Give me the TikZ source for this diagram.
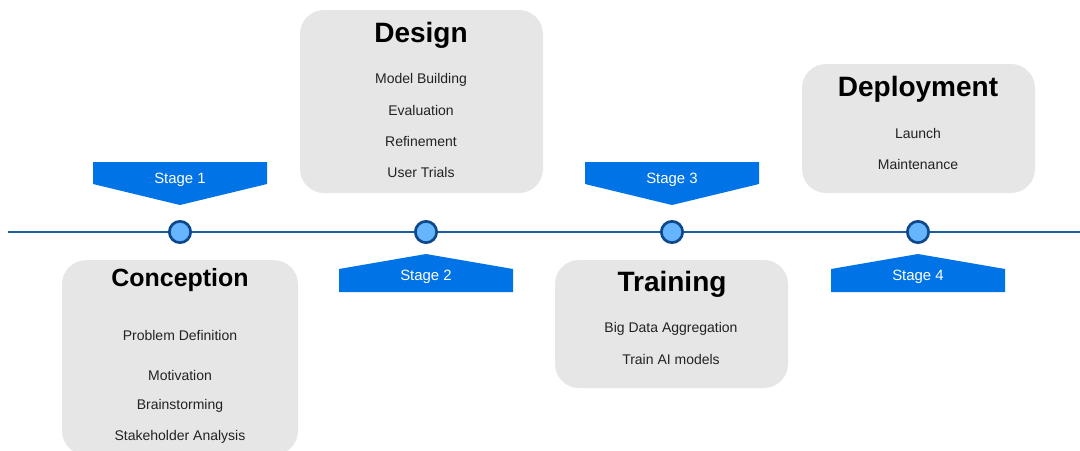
\documentclass[tikz,border=0pt]{standalone}
\usepackage{fontspec}
\setmainfont{Liberation Sans}
\definecolor{LineClr}{RGB}{26,92,165}
\definecolor{DotClr}{RGB}{102,181,255}
\definecolor{DotEdgeClr}{RGB}{13,72,140}
\definecolor{FlagClr}{RGB}{0,115,230}
\definecolor{BoxClr}{RGB}{230,230,230}
\definecolor{ItemClr}{RGB}{34,34,34}

\begin{document}
\begin{tikzpicture}[x=0.75pt,y=-0.75pt,
  dot/.style={circle,draw=DotEdgeClr,fill=DotClr,line width=2pt,minimum size=16pt,inner sep=0pt},
  card/.style={fill=BoxClr,rounded corners=18pt,inner sep=0pt},
  title/.style={font=\bfseries\fontsize{21}{24}\selectfont},
  item/.style={text=ItemClr,font=\fontsize{10.5}{12}\selectfont},
  flagtxt/.style={text=white,font=\fontsize{11.2}{13}\selectfont}]
\useasboundingbox (0,0) rectangle (1080,450);
\clip (0,0) rectangle (1080,450);

% grey cards
\node[card,minimum width=177pt,minimum height=146pt] (concept) at (180,357.5) {};
\node[card,minimum width=182.25pt,minimum height=137.25pt] (design) at (421.5,101.5) {};
\node[card,minimum width=174.75pt,minimum height=96pt] (train) at (671.5,324) {};
\node[card,minimum width=174.75pt,minimum height=96.75pt] (deploy) at (918.5,128.5) {};

% time line
\coordinate (start) at (8,232);
\coordinate (end) at (1080,232);
\draw[LineClr,line width=1.6pt] (start) -- (end);

\node[dot] (s1) at (180,232) {};
\node[dot] (s2) at (426,232) {};
\node[dot] (s3) at (672,232) {};
\node[dot] (s4) at (918,232) {};

% flags pointing down (stage 1, 3)
\foreach \s/\n in {s1/1,s3/3}{
  \fill[FlagClr,shift={(\s)}] (-87,-70) -- (87,-70) -- (87,-48) -- (0,-27) -- (-87,-48) -- cycle;
  \node[flagtxt] (flag\n) at ([yshift=39pt]\s) {Stage \n};
}
% flags pointing up (stage 2, 4)
\foreach \s/\n in {s2/2,s4/4}{
  \fill[FlagClr,shift={(\s)}] (-87,60) -- (87,60) -- (87,37) -- (0,22) -- (-87,37) -- cycle;
  \node[flagtxt] (flag\n) at ([yshift=-33.5pt]\s) {Stage \n};
}

% titles
\node[title,font=\bfseries\fontsize{18.7}{22}\selectfont] (concept-t) at (180,280) {Conception};
\node[title] (design-t) at (421,35) {Design};
\node[title] (train-t) at (672,284) {Training};
\node[title] (deploy-t) at (918,89) {Deployment};

% items
\foreach \y/\t [count=\i] in {335/Problem Definition,375/Motivation,406/Brainstorming,437/Stakeholder Analysis}
  \node[item] (concept-\i) at (180,\y) {\t};
\foreach \y/\t [count=\i] in {79.5/Model Building,110/Evaluation,141/Refinement,172/User Trials}
  \node[item] (design-\i) at (421,\y) {\t};
\foreach \y/\t [count=\i] in {329/Big Data Aggregation,359/Train AI models}
  \node[item] (train-\i) at (671,\y) {\t};
\foreach \y/\t [count=\i] in {133/Launch,164/Maintenance}
  \node[item] (deploy-\i) at (918,\y) {\t};

\end{tikzpicture}
\end{document}
